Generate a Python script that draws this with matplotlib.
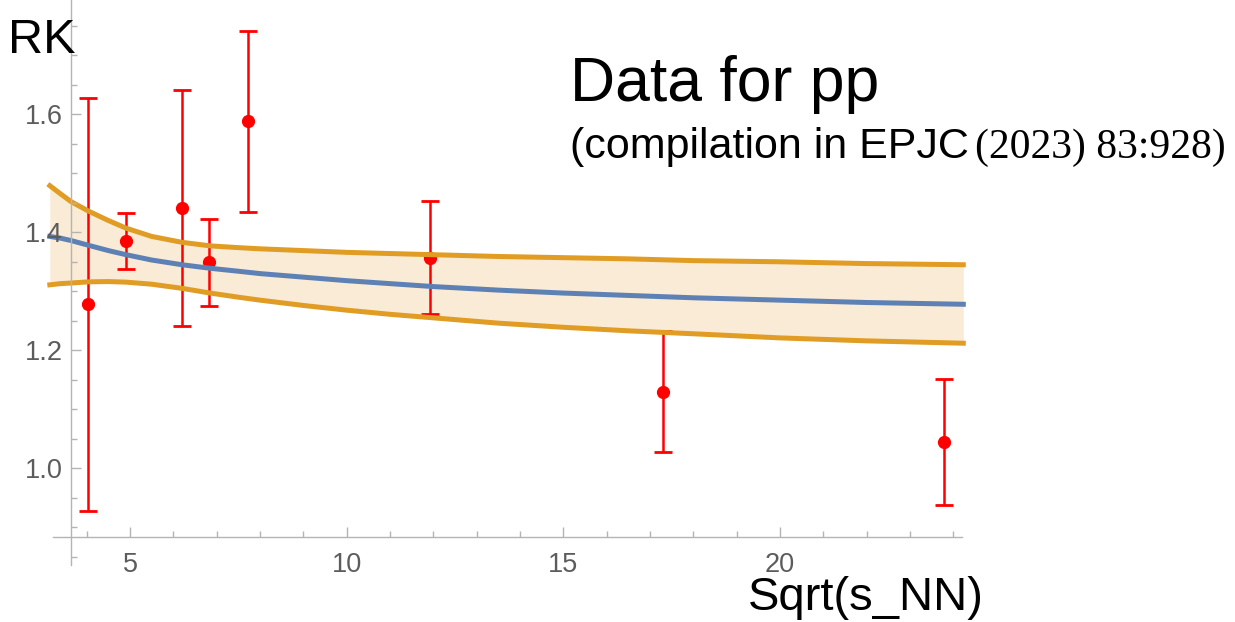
import numpy as np
import matplotlib.pyplot as plt
from matplotlib.ticker import FixedLocator

plt.rcParams['font.family'] = ['Liberation Sans', 'DejaVu Sans']

# measured points (pp compilation)
sqrt_s = [4.04, 4.91, 6.19, 6.83, 7.73, 11.92, 17.29, 23.79]
rk = [1.278, 1.385, 1.441, 1.349, 1.588, 1.357, 1.130, 1.045]
rk_err = [0.350, 0.047, 0.200, 0.074, 0.153, 0.096, 0.102, 0.107]

# model curve and its band
x_fit = [3.15, 3.40, 3.64, 4.04, 4.50, 4.91, 5.50, 6.20, 6.85, 7.50, 8.00,
         9.00, 10.0, 11.0, 12.0, 13.5, 15.0, 16.5, 18.0, 20.0, 22.0, 24.23]
rk_fit = [1.393, 1.390, 1.386, 1.378, 1.369, 1.362, 1.353, 1.345, 1.339, 1.334, 1.330,
          1.324, 1.318, 1.313, 1.308, 1.302, 1.297, 1.293, 1.289, 1.285, 1.281, 1.278]
rk_up = [1.479, 1.465, 1.452, 1.436, 1.420, 1.407, 1.393, 1.383, 1.377, 1.374, 1.372,
         1.369, 1.366, 1.364, 1.362, 1.359, 1.357, 1.355, 1.352, 1.350, 1.347, 1.345]
rk_lo = [1.311, 1.313, 1.314, 1.316, 1.3165, 1.3155, 1.312, 1.305, 1.297, 1.290, 1.285,
         1.276, 1.268, 1.261, 1.255, 1.246, 1.239, 1.233, 1.228, 1.221, 1.216, 1.212]

x_major = [5, 10, 15, 20]
x_minor = list(range(4, 25))
y_major = [1.0, 1.2, 1.4, 1.6]
y_minor = [0.85, 0.9, 0.95, 1.05, 1.1, 1.15, 1.25, 1.3, 1.35, 1.45, 1.5,
           1.55, 1.65, 1.7, 1.75]

W, H = 1235, 622
fig = plt.figure(figsize=(W / 100, H / 100), dpi=100)
ax = fig.add_axes([0, 0, 1, 1])
ax.set_xlim(2.0, 30.5)
ax.set_ylim(0.7395, 1.7937)

axis_col = '#b4b4b4'
orange = '#e19c24'
blue = '#5e81b5'

ax.fill_between(x_fit, rk_lo, rk_up, color='#f9ebd5', lw=0, zorder=1)
ax.errorbar(sqrt_s, rk, yerr=rk_err, fmt='o', color='red', ms=8.5,
            elinewidth=1.8, capsize=6.5, capthick=2.0, zorder=2)
ax.plot(x_fit, rk_up, color=orange, lw=3.6, zorder=3)
ax.plot(x_fit, rk_lo, color=orange, lw=3.6, zorder=3)
ax.plot(x_fit, rk_fit, color=blue, lw=3.6, zorder=4)

# Mathematica-like axes crossing inside the frame
for s in ['top', 'right']:
    ax.spines[s].set_visible(False)
ax.spines['left'].set_position(('data', 3.638))
ax.spines['bottom'].set_position(('data', 0.8833))
ax.spines['left'].set_bounds(0.836, 1.80)
ax.spines['bottom'].set_bounds(3.23, 24.19)
for s in ['left', 'bottom']:
    ax.spines[s].set_color(axis_col)
    ax.spines[s].set_linewidth(1)
    ax.spines[s].set_zorder(5)
ax.xaxis.set_zorder(5)
ax.yaxis.set_zorder(5)

ax.xaxis.set_major_locator(FixedLocator(x_major))
ax.xaxis.set_minor_locator(FixedLocator(x_minor))
ax.yaxis.set_major_locator(FixedLocator(y_major))
ax.yaxis.set_minor_locator(FixedLocator(y_minor))
ax.set_xticklabels([str(v) for v in x_major])
ax.set_yticklabels(['%.1f' % v for v in y_major])
ax.tick_params(which='both', direction='in', color=axis_col, width=1,
               labelsize=19.5, labelcolor='#5c5c5c')
ax.tick_params(which='major', length=7)
ax.tick_params(which='minor', length=4)
ax.tick_params(axis='y', pad=6)
ax.tick_params(axis='x', pad=11)

ax.set_ylabel('RK', rotation=0, fontsize=35, ha='left', va='baseline')
ax.yaxis.set_label_coords(8 / W, 1 - 53 / H)
ax.set_xlabel('Sqrt(s_NN)', fontsize=34, ha='left', va='baseline')
ax.xaxis.set_label_coords(748 / W, 1 - 610 / H)

ax.text(570 / W, 1 - 101 / H, 'Data for pp', transform=ax.transAxes,
        fontsize=45, ha='left', va='baseline')
ax.text(570 / W, 1 - 158 / H, '(compilation in EPJC ', transform=ax.transAxes,
        fontsize=31, ha='left', va='baseline')
ax.text(975 / W, 1 - 158 / H, '(2023) 83:928)', transform=ax.transAxes,
        family='Liberation Serif', fontsize=30, ha='left', va='baseline')

fig.savefig('out.png', dpi=100)
